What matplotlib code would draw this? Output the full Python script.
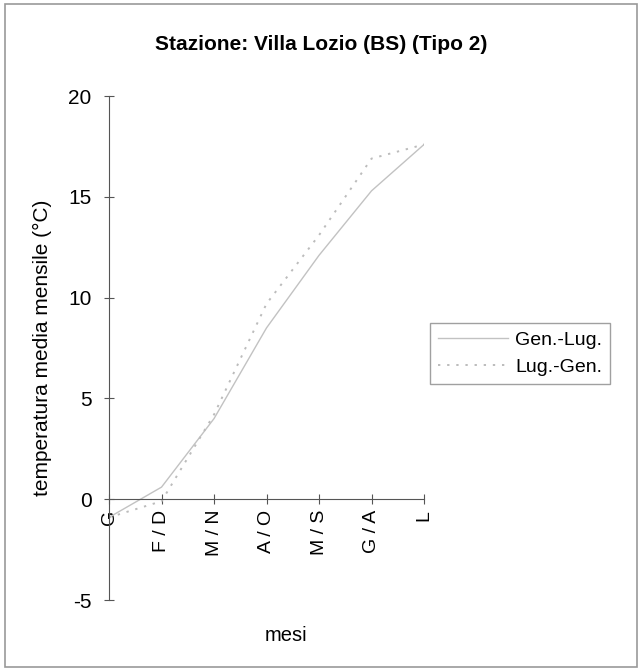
import matplotlib
matplotlib.use('Agg')
import matplotlib.pyplot as plt
from matplotlib.patches import Rectangle

plt.rcParams['font.family'] = ['Liberation Sans', 'DejaVu Sans']

# dati
mesi = ['G', 'F / D', 'M / N', 'A / O', 'M / S', 'G / A', 'L']
gen_lug = [-0.9, 0.6, 4.0, 8.5, 12.1, 15.3, 17.6]
lug_gen = [-0.9, -0.1, 4.2, 9.7, 13.1, 16.9, 17.6]
y_ticks = [-5, 0, 5, 10, 15, 20]

fig = plt.figure(figsize=(6.42, 6.71), dpi=100)
ax = fig.add_axes([0.1698, 0.1058, 0.4907, 0.751])

x = list(range(len(mesi)))
ax.plot(x, gen_lug, color='#c2c2c2', lw=1.0, label='Gen.-Lug.')
ax.plot(x, lug_gen, color='#bcbcbc', lw=1.4, linestyle=(0, (1.2, 3.5)), label='Lug.-Gen.')

ax.set_xlim(0, 6)
ax.set_ylim(-5, 20)
ax.spines['top'].set_visible(False)
ax.spines['right'].set_visible(False)
ax.spines['bottom'].set_position(('data', 0))
for s in ['left', 'bottom']:
    ax.spines[s].set_color('#555555')
    ax.spines[s].set_linewidth(0.8)

ax.set_yticks(y_ticks)
ax.set_yticklabels([str(v) for v in y_ticks], fontsize=15)
ax.set_xticks(x)
ax.set_xticklabels(mesi, rotation=90, fontsize=14, ha='center', va='top')
ax.tick_params(axis='both', direction='inout', length=7, color='#555555', width=0.8)
ax.tick_params(axis='y', pad=9)
ax.tick_params(axis='x', pad=4)

ax.set_ylabel('temperatura media mensile (°C)', fontsize=15, labelpad=12)
fig.text(0.445, 0.053, 'mesi', ha='center', va='center', fontsize=14.5)
fig.text(0.5, 0.933, 'Stazione: Villa Lozio (BS) (Tipo 2)', ha='center', va='center',
         fontsize=15, fontweight='bold')

leg = ax.legend(loc='center left', bbox_to_anchor=(1.0, 0.5), fontsize=14,
                frameon=True, fancybox=False, edgecolor='#888888',
                handlelength=3.6, handletextpad=0.4, borderpad=0.4, labelspacing=0.5)
leg.get_frame().set_linewidth(1.0)
leg.set_bbox_to_anchor((420 / 642, 1 - 386 / 671, 200 / 642, 65 / 671), transform=fig.transFigure)

fig.patches.append(Rectangle((0.008, 0.006), 0.984, 0.988, transform=fig.transFigure,
                             fill=False, edgecolor='#999999', lw=1.2))

fig.savefig('out.png', dpi=100)
